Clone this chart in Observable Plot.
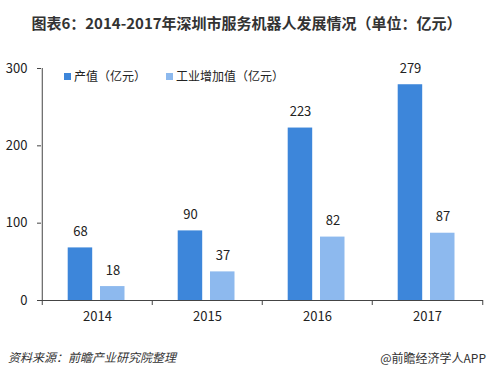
<!DOCTYPE html>
<html>
<head>
<meta charset="utf-8">
<script src="https://cdn.jsdelivr.net/npm/d3@7"></script>
<script src="https://cdn.jsdelivr.net/npm/@observablehq/plot@0.6"></script>
<style>
  html, body { margin: 0; padding: 0; background: #fff; }
  #wrap { position: relative; width: 493px; height: 376px; overflow: hidden; font-family: "Noto Sans CJK SC", "Noto Sans", sans-serif; color: #222; }
  #title { position: absolute; left: 0; width: 493px; top: 12px; text-align: center; font-size: 15px; font-weight: bold; color: #333; line-height: 22px; }
  #chart { position: absolute; left: 0; top: 45px; }
  #legend { position: absolute; left: 64px; top: 67px; font-size: 12px; line-height: 18px; color: #222; white-space: nowrap; }
  #legend span.sw { display: inline-block; width: 7px; height: 7px; margin-right: 3px; vertical-align: 1px; }
  #legend span.item { margin-right: 20px; }
  #src { position: absolute; left: 8px; top: 348px; font-size: 12px; font-style: italic; color: #333; }
  #brand { position: absolute; right: 7px; top: 349px; font-size: 12px; color: #333; }
</style>
</head>
<body>
<div id="wrap">
  <div id="title">图表6：2014-2017年深圳市服务机器人发展情况（单位：亿元）</div>
  <div id="chart"></div>
  <div id="legend"></div>
  <div id="src">资料来源：前瞻产业研究院整理</div>
  <div id="brand">@前瞻经济学人APP</div>
</div>
<script>
const years = ["2014", "2015", "2016", "2017"];
const outputValue = [68, 90, 223, 279];
const addedValue = [18, 37, 82, 87];
const seriesNames = ["产值（亿元）", "工业增加值（亿元）"];
const seriesColors = ["#3d86da", "#8db9ee"];
const yTicks = [0, 100, 200, 300];

const rowsA = years.map((y, i) => ({year: y, value: outputValue[i]}));
const rowsB = years.map((y, i) => ({year: y, value: addedValue[i]}));

const legend = document.getElementById("legend");
seriesNames.forEach((n, i) => {
  const it = document.createElement("span");
  it.className = "item";
  it.innerHTML = `<span class="sw" style="background:${seriesColors[i]}"></span>${n}`;
  legend.appendChild(it);
});

const chart = Plot.plot({
  width: 493,
  height: 290,
  marginTop: 23,
  marginBottom: 35,
  marginLeft: 41,
  marginRight: 10,
  style: {fontFamily: "'Noto Sans CJK SC', 'Noto Sans', sans-serif", fontSize: "13px", color: "#222", background: "transparent"},
  x: {domain: years, padding: 0, label: null},
  y: {domain: [0, 300], label: null},
  marks: [
    Plot.barY(rowsA, {x: "year", y: "value", fill: seriesColors[0], insetLeft: 25.7, insetRight: 59.8}),
    Plot.barY(rowsB, {x: "year", y: "value", fill: seriesColors[1], insetLeft: 58, insetRight: 27.5}),
    Plot.text(rowsA, {x: "year", y: "value", text: d => String(d.value), dx: -17, dy: -16, fontSize: 13, fill: "#222"}),
    Plot.text(rowsB, {x: "year", y: "value", text: d => String(d.value), dx: 15.5, dy: -16, fontSize: 13, fill: "#222"}),
    Plot.ruleY([0], {stroke: "#444"}),
    Plot.ruleX(years, {x: d => d, dx: -55.25, y1: 0, y2: 0, insetBottom: -5, stroke: "#444"}),
    Plot.ruleX(years.slice(-1), {x: d => d, dx: 55.25, y1: 0, y2: 0, insetBottom: -5, stroke: "#444"}),
    Plot.ruleX(years.slice(0, 1), {x: d => d, dx: -55.25, y1: yTicks[0], y2: yTicks[yTicks.length - 1], stroke: "#444"}),
    Plot.axisX({tickSize: 0, tickPadding: 11, fontSize: 13, label: null}),
    Plot.axisY({ticks: yTicks, tickSize: 4, tickPadding: 10, fontSize: 13, label: null, stroke: "#444"})
  ]
});
document.getElementById("chart").appendChild(chart);
</script>
</body>
</html>
